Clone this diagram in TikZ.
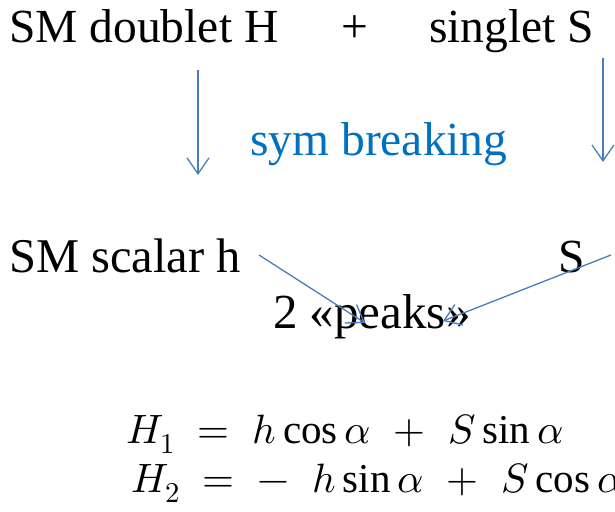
\documentclass[tikz,border=0pt]{standalone}
\usepackage{fontspec}
\usepackage{unicode-math}
\setmainfont{Liberation Serif}
\setmathfont{Latin Modern Math}
\usetikzlibrary{arrows.meta}
\definecolor{arrblue}{HTML}{4A7EBB}
\definecolor{txtblue}{HTML}{0070C0}
\begin{document}
\begin{tikzpicture}[x=1pt,y=-1pt,
  lbl/.style={anchor=base west,inner sep=0pt,font=\fontsize{47.5}{55}\selectfont},
  eq/.style={anchor=base west,inner sep=0pt,font=\fontsize{41}{46}\selectfont},
  conn/.style={draw=arrblue,line width=1.3pt,-{Straight Barb[length=16pt,width=22pt,line width=1.3pt]}}]
\useasboundingbox (0,0) rectangle (615,511);
\clip (0,0) rectangle (615,511);
\node[lbl] (dbl) at (9,43) {SM doublet H};
\node[lbl] (plus) at (341,43) {+};
\node[lbl] (sgl) at (429,43) {singlet S};
\node[lbl,text=txtblue] (sym) at (250,155) {sym breaking};
\node[lbl,font=\fontsize{48.5}{55}\selectfont] (smh) at (9,272) {SM scalar h};
\node[lbl] (s2) at (558,272) {S};
\node[lbl,font=\fontsize{49}{55}\selectfont] (peaks) at (273,328) {2 «peaks»};
\node[eq] (eq1) at (126,443) {$\thickmuskip=10mu\medmuskip=10mu H_1 = h\cos\alpha + S\sin\alpha$};
\node[eq] (eq2) at (131,492) {$\thickmuskip=10mu\medmuskip=10mu H_2 = -\;h\sin\alpha + S\cos\alpha$};
\coordinate (a1s) at (198,70);
\coordinate (a1e) at (198,175);
\coordinate (a2s) at (603,58);
\coordinate (a2e) at (603,162);
\coordinate (a3s) at (259,255);
\coordinate (a3e) at (365,323);
\coordinate (a4s) at (611,255);
\coordinate (a4e) at (443,321);
\draw[conn] (a1s) -- (a1e);
\draw[conn] (a2s) -- (a2e);
\draw[conn] (a3s) -- (a3e);
\draw[conn] (a4s) -- (a4e);
\end{tikzpicture}
\end{document}
